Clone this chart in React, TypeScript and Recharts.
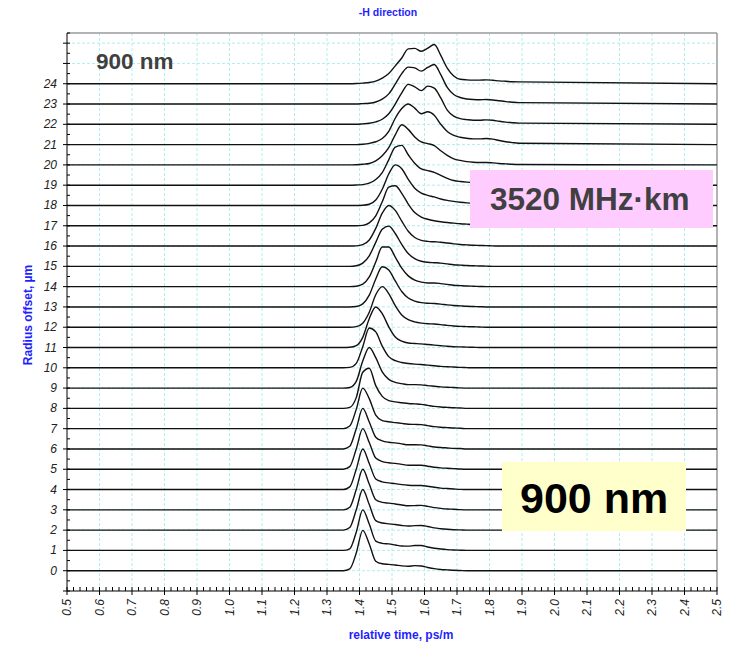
import { LineChart, Line, XAxis, YAxis, ReferenceLine } from 'recharts';

// sample times (ps/m) across the pulse window; outside it every trace is flat
const timeGrid = [
  1.31, 1.33, 1.35, 1.37, 1.39, 1.41, 1.43, 1.45, 1.47, 1.49,
  1.51, 1.53, 1.55, 1.57, 1.59, 1.61, 1.63, 1.65, 1.67, 1.69,
  1.71, 1.73, 1.75, 1.77, 1.79, 1.81, 1.83, 1.85, 1.87, 1.89
];

// pulse height above each trace's own offset, one value per timeGrid entry
const pulse00 = [0, 0, 0, 0.09, 0.87, 1.99, 1.32, 0.47, 0.34, 0.31, 0.28, 0.24, 0.22, 0.25, 0.23, 0.16, 0.1, 0.06, 0.04, 0.02, 0.01, 0, 0, 0, 0, 0, 0, 0, 0, 0];
const pulse01 = [0, 0, 0, 0.08, 0.9, 2.0, 1.3, 0.46, 0.35, 0.32, 0.27, 0.22, 0.21, 0.24, 0.24, 0.17, 0.11, 0.07, 0.04, 0.02, 0.01, 0, 0, 0, 0, 0, 0, 0, 0, 0];
const pulse02 = [0, 0, 0, 0.13, 1.0, 2.0, 1.26, 0.47, 0.35, 0.31, 0.28, 0.23, 0.2, 0.22, 0.23, 0.18, 0.11, 0.07, 0.04, 0.02, 0.01, 0, 0, 0, 0, 0, 0, 0, 0, 0];
const pulse03 = [0, 0, 0, 0.13, 1.0, 2.0, 1.27, 0.5, 0.37, 0.33, 0.29, 0.24, 0.2, 0.21, 0.22, 0.17, 0.11, 0.07, 0.04, 0.03, 0.01, 0, 0, 0, 0, 0, 0, 0, 0, 0];
const pulse04 = [0, 0, 0, 0.13, 1.0, 2.0, 1.28, 0.52, 0.38, 0.33, 0.29, 0.24, 0.21, 0.2, 0.2, 0.16, 0.11, 0.07, 0.05, 0.03, 0.01, 0, 0, 0, 0, 0, 0, 0, 0, 0];
const pulse05 = [0, 0, 0, 0.13, 1.0, 2.0, 1.32, 0.55, 0.38, 0.32, 0.29, 0.24, 0.2, 0.2, 0.2, 0.15, 0.1, 0.07, 0.05, 0.03, 0.01, 0, 0, 0, 0, 0, 0, 0, 0, 0];
const pulse06 = [0, 0, 0, 0.13, 1.0, 2.0, 1.33, 0.58, 0.4, 0.33, 0.3, 0.25, 0.21, 0.21, 0.2, 0.15, 0.1, 0.07, 0.05, 0.03, 0.02, 0, 0, 0, 0, 0, 0, 0, 0, 0];
const pulse07 = [0, 0, 0, 0.13, 0.95, 2.0, 1.48, 0.67, 0.4, 0.34, 0.3, 0.26, 0.22, 0.21, 0.2, 0.15, 0.1, 0.07, 0.05, 0.03, 0.02, 0, 0, 0, 0, 0, 0, 0, 0, 0];
const pulse08 = [0, 0, 0, 0.05, 0.53, 1.78, 1.98, 1.12, 0.59, 0.38, 0.32, 0.28, 0.24, 0.22, 0.2, 0.15, 0.1, 0.07, 0.05, 0.03, 0.02, 0, 0, 0, 0, 0, 0, 0, 0, 0];
const pulse09 = [0, 0, 0, 0.03, 0.33, 1.33, 2.0, 1.5, 0.8, 0.43, 0.28, 0.22, 0.17, 0.17, 0.16, 0.12, 0.09, 0.06, 0.04, 0.03, 0.01, 0, 0, 0, 0, 0, 0, 0, 0, 0];
const pulse10 = [0, 0, 0, 0.02, 0.22, 1.04, 1.96, 1.77, 1.07, 0.55, 0.35, 0.26, 0.21, 0.18, 0.16, 0.13, 0.1, 0.07, 0.05, 0.04, 0.02, 0.01, 0, 0, 0, 0, 0, 0, 0, 0];
const pulse11 = [0, 0, 0, 0.01, 0.09, 0.5, 1.42, 2.0, 1.67, 1.02, 0.52, 0.31, 0.22, 0.2, 0.18, 0.15, 0.12, 0.09, 0.06, 0.04, 0.03, 0.02, 0.01, 0, 0, 0, 0, 0, 0, 0];
const pulse12 = [0, 0, 0, 0, 0.03, 0.2, 0.74, 1.6, 2.0, 1.66, 1.06, 0.6, 0.37, 0.26, 0.2, 0.17, 0.16, 0.13, 0.09, 0.06, 0.04, 0.03, 0.02, 0.01, 0, 0, 0, 0, 0, 0];
const pulse13 = [0, 0, 0, 0, 0.02, 0.15, 0.58, 1.38, 1.98, 1.82, 1.28, 0.76, 0.44, 0.29, 0.21, 0.18, 0.17, 0.14, 0.1, 0.07, 0.05, 0.03, 0.02, 0.01, 0, 0, 0, 0, 0, 0];
const pulse14 = [0, 0, 0, 0, 0.02, 0.12, 0.48, 1.21, 1.95, 1.95, 1.46, 0.91, 0.53, 0.32, 0.22, 0.18, 0.18, 0.15, 0.11, 0.07, 0.05, 0.03, 0.02, 0.01, 0, 0, 0, 0, 0, 0];
const pulse15 = [0, 0, 0, 0, 0.03, 0.16, 0.52, 1.18, 1.83, 1.98, 1.62, 1.08, 0.63, 0.38, 0.25, 0.2, 0.18, 0.16, 0.12, 0.08, 0.06, 0.04, 0.03, 0.02, 0.01, 0, 0, 0, 0, 0];
const pulse16 = [0, 0, 0, 0, 0.01, 0.07, 0.3, 0.87, 1.62, 2.0, 1.76, 1.23, 0.73, 0.42, 0.28, 0.23, 0.21, 0.19, 0.15, 0.11, 0.08, 0.06, 0.04, 0.03, 0.02, 0.01, 0, 0, 0, 0];
const pulse17 = [0, 0, 0, 0, 0, 0.02, 0.14, 0.49, 1.18, 1.9, 1.97, 1.6, 1.07, 0.65, 0.43, 0.32, 0.25, 0.2, 0.16, 0.13, 0.1, 0.08, 0.06, 0.05, 0.04, 0.03, 0.02, 0.01, 0, 0];
const pulse18 = [0, 0, 0, 0, 0, 0.01, 0.06, 0.27, 0.8, 1.55, 2.0, 1.81, 1.29, 0.85, 0.61, 0.5, 0.42, 0.32, 0.25, 0.2, 0.16, 0.13, 0.11, 0.1, 0.09, 0.07, 0.05, 0.03, 0.02, 0.01];
const pulse19 = [0, 0, 0, 0, 0.01, 0.03, 0.1, 0.28, 0.62, 1.25, 1.88, 1.96, 1.5, 1.08, 0.8, 0.72, 0.63, 0.48, 0.34, 0.23, 0.18, 0.15, 0.13, 0.12, 0.12, 0.1, 0.07, 0.05, 0.03, 0.02];
const pulse20 = [0, 0, 0, 0, 0.01, 0.03, 0.07, 0.2, 0.45, 0.85, 1.48, 1.98, 1.75, 1.38, 1.13, 1.05, 0.95, 0.7, 0.47, 0.3, 0.22, 0.16, 0.13, 0.12, 0.12, 0.1, 0.07, 0.05, 0.03, 0.02];
const pulse21 = [0, 0, 0, 0, 0, 0.02, 0.06, 0.14, 0.3, 0.65, 1.3, 1.78, 2.0, 1.8, 1.52, 1.62, 1.45, 1.0, 0.65, 0.45, 0.36, 0.31, 0.28, 0.28, 0.3, 0.27, 0.2, 0.14, 0.1, 0.07];
const pulse22 = [0, 0, 0, 0, 0, 0.02, 0.05, 0.12, 0.25, 0.52, 1.0, 1.55, 1.97, 1.85, 1.66, 1.88, 1.78, 1.3, 0.7, 0.4, 0.28, 0.23, 0.2, 0.2, 0.22, 0.2, 0.15, 0.11, 0.08, 0.06];
const pulse23 = [0, 0, 0, 0, 0, 0.02, 0.04, 0.1, 0.24, 0.5, 0.98, 1.5, 1.82, 1.78, 1.62, 1.8, 1.95, 1.45, 0.82, 0.47, 0.32, 0.25, 0.22, 0.21, 0.22, 0.2, 0.16, 0.12, 0.09, 0.07];
const pulse24 = [0, 0, 0, 0, 0.01, 0.03, 0.06, 0.13, 0.28, 0.5, 0.88, 1.27, 1.72, 1.74, 1.6, 1.75, 1.93, 1.4, 0.77, 0.38, 0.22, 0.19, 0.18, 0.18, 0.19, 0.17, 0.14, 0.12, 0.1, 0.09];

const pulses = [
  pulse00, pulse01, pulse02, pulse03, pulse04, pulse05, pulse06, pulse07, pulse08, pulse09,
  pulse10, pulse11, pulse12, pulse13, pulse14, pulse15, pulse16, pulse17, pulse18, pulse19,
  pulse20, pulse21, pulse22, pulse23, pulse24
];

const offsets = [0, 1, 2, 3, 4, 5, 6, 7, 8, 9, 10, 11, 12, 13, 14, 15, 16, 17, 18, 19, 20, 21, 22, 23, 24];
const timeLabels = [0.5, 0.6, 0.7, 0.8, 0.9, 1.0, 1.1, 1.2, 1.3, 1.4, 1.5, 1.6, 1.7, 1.8, 1.9, 2.0, 2.1, 2.2, 2.3, 2.4, 2.5];
const gridRows = [0, 1, 2, 3, 4, 5, 6, 7, 8, 9, 10, 11, 12, 13, 14, 15, 16, 17, 18, 19, 20, 21, 22, 23, 24, 25, 26];

const T_MIN = 0.5;
const T_MAX = 2.5;
const Y_MIN = -1;
const Y_MAX = 26.5;

const times = [T_MIN, ...timeGrid, T_MAX];
const rows = times.map((t, k) => {
  const row: Record<string, number> = { t };
  offsets.forEach((off, i) => {
    const inside = k > 0 && k <= timeGrid.length;
    row['r' + off] = off + (inside ? pulses[i][k - 1] : 0);
  });
  return row;
});

// minor ticks every 0.02 on x, every 0.5 on y
const xTicks = Array.from({ length: 101 }, (_, k) => Math.round(50 + 2 * k) / 100);
const yTicks = Array.from({ length: 56 }, (_, k) => Y_MIN + k * 0.5);

const FONT = '"Liberation Sans", Arial, sans-serif';
const BLUE = '#1f1fff';

const TimeTick = (props: any) => {
  const { x, y, payload } = props;
  const v = payload.value as number;
  const major = Math.abs(v * 10 - Math.round(v * 10)) < 1e-6;
  return (
    <g>
      <line x1={x} x2={x} y1={y - 4} y2={major ? y + 4 : y} stroke="#000" strokeWidth={1} />
      {major && (
        <text
          x={x}
          y={y + 8}
          transform={`rotate(-90 ${x} ${y + 8})`}
          textAnchor="end"
          dominantBaseline="central"
          fontSize={12}
          fontStyle="italic"
          fontFamily={FONT}
          fill="#222"
        >
          {v.toFixed(1)}
        </text>
      )}
    </g>
  );
};

const OffsetTick = (props: any) => {
  const { x, y, payload } = props;
  const v = payload.value as number;
  const major = Number.isInteger(v);
  return (
    <g>
      <line x1={major ? x - 4 : x} x2={x + 3} y1={y} y2={y} stroke="#000" strokeWidth={1} />
      {major && v >= 0 && v <= 24 && (
        <text
          x={x - 10}
          y={y}
          textAnchor="end"
          dominantBaseline="central"
          fontSize={12}
          fontStyle="italic"
          fontFamily={FONT}
          fill="#222"
        >
          {v}
        </text>
      )}
    </g>
  );
};

export default function App() {
  return (
    <div style={{ position: 'absolute', left: 0, top: 0, width: 730, height: 649, background: '#fff' }}>
      <LineChart width={730} height={649} data={rows} margin={{ top: 33, right: 13, left: 0, bottom: 0 }}>
        {timeLabels.slice(1, -1).map((v) => (
          <ReferenceLine key={'gx' + v} x={v} stroke="#b0eeee" strokeDasharray="3 2" ifOverflow="visible" />
        ))}
        {gridRows.map((v) => (
          <ReferenceLine key={'gy' + v} y={v} stroke="#b0eeee" strokeDasharray="3 2" ifOverflow="visible" />
        ))}
        <ReferenceLine y={Y_MAX} stroke="#9a9a9a" strokeWidth={1.5} ifOverflow="visible" />
        <ReferenceLine x={T_MAX} stroke="#9a9a9a" strokeWidth={1.5} ifOverflow="visible" />
        <XAxis
          dataKey="t"
          type="number"
          domain={[T_MIN, T_MAX]}
          ticks={xTicks}
          interval={0}
          tick={TimeTick}
          tickLine={false}
          tickSize={0}
          tickMargin={0}
          height={58}
          axisLine={{ stroke: '#000', strokeWidth: 1.2 }}
          allowDataOverflow
        />
        <YAxis
          type="number"
          domain={[Y_MIN, Y_MAX]}
          ticks={yTicks}
          interval={0}
          tick={OffsetTick}
          tickLine={false}
          tickSize={0}
          tickMargin={0}
          width={67}
          axisLine={{ stroke: '#000', strokeWidth: 1 }}
          allowDataOverflow
        />
        {offsets.map((off) => (
          <Line
            key={off}
            type="monotone"
            dataKey={'r' + off}
            stroke="#111"
            strokeWidth={1.4}
            dot={false}
            activeDot={false}
            isAnimationActive={false}
          />
        ))}
      </LineChart>
      <svg width={730} height={649} style={{ position: 'absolute', left: 0, top: 0, pointerEvents: 'none' }}>
        <text x={388} y={16} textAnchor="middle" fontFamily={FONT} fontSize={10.5} fontWeight="bold" fill={BLUE}>
          -H direction
        </text>
        <text
          x={32}
          y={315}
          transform="rotate(-90 32 315)"
          textAnchor="middle"
          fontFamily={FONT}
          fontSize={12}
          fontWeight="bold"
          fill={BLUE}
        >
          Radius offset, µm
        </text>
        <text x={401} y={639} textAnchor="middle" fontFamily={FONT} fontSize={12} fontWeight="bold" fill={BLUE}>
          relative time, ps/m
        </text>
        <text x={96} y={68.5} fontFamily={FONT} fontSize={22.5} fontWeight="bold" fill="#404040">
          900 nm
        </text>
        <rect x={470} y={170} width={243} height={58} fill="#ffccff" />
        <text x={490} y={210} fontFamily={FONT} fontSize={31.5} fontWeight="bold" fill="#404040">
          3520 MHz·km
        </text>
        <rect x={502} y={462} width={184} height={69} fill="#ffffcc" />
        <text x={520} y={513} fontFamily={FONT} fontSize={43} fontWeight="bold" fill="#000">
          900 nm
        </text>
      </svg>
    </div>
  );
}
